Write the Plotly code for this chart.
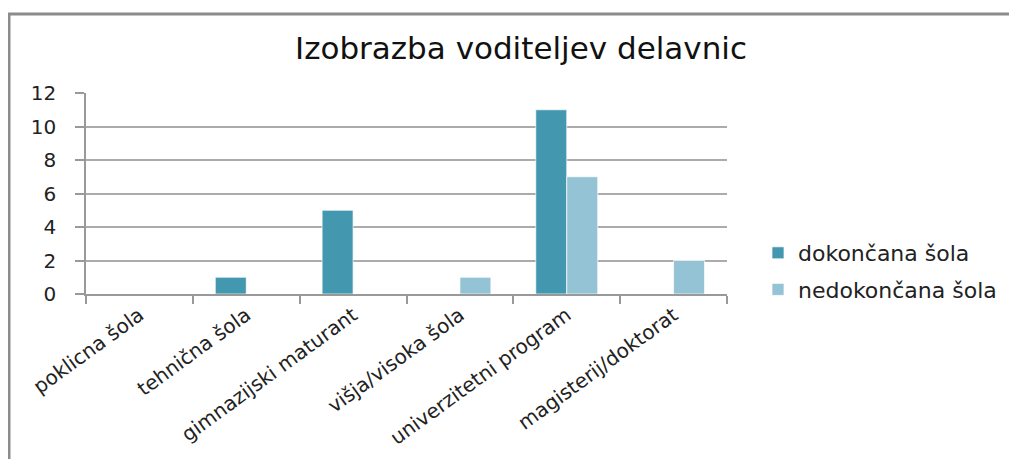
import plotly.graph_objects as go

categories = ["poklicna šola", "tehnična šola", "gimnazijski maturant",
              "višja/visoka šola", "univerzitetni program", "magisterij/doktorat"]
dokoncana = [0, 1, 5, 0, 11, 0]
nedokoncana = [0, 0, 0, 1, 7, 2]
series_names = ["dokončana šola", "nedokončana šola"]
title_text = "Izobrazba voditeljev delavnic"

OFF = 8  # page body margin
W, H = 1017 - 2 * OFF, 467 - 2 * OFF
# plot area in page pixels -> figure pixels
L, R, T, B = 86 - OFF, 727 - OFF, 93 - OFF, 294 - OFF
FONT = "DejaVu Sans"

def px_x(px):
    return (px - OFF - L) / (R - L)

def px_y(py):
    return (B - (py - OFF)) / (B - T)

fig = go.Figure()
fig.add_trace(go.Bar(x=categories, y=dokoncana, name=series_names[0],
                     marker=dict(color="#4398B0", line=dict(color="rgba(255,255,255,0.7)", width=1)),
                     legendgroup="a"))
fig.add_trace(go.Bar(x=categories, y=nedokoncana, name=series_names[1],
                     marker=dict(color="#93C3D5", line=dict(color="rgba(255,255,255,0.7)", width=1)),
                     legendgroup="b"))

fig.update_layout(
    width=W, height=H,
    margin=dict(l=L, r=W - R, t=T, b=H - B, autoexpand=False),
    paper_bgcolor="white", plot_bgcolor="white",
    barmode="group", bargap=0.42, bargroupgap=0,
    font=dict(family=FONT, color="#222222"),
    title=dict(text=title_text, x=(521 - OFF) / W, xanchor="center", xref="container",
               y=1 - (48 - OFF) / H, yanchor="middle", yref="container",
               font=dict(family=FONT, size=31, color="#111111")),
    legend=dict(x=px_x(758), xanchor="left", y=px_y(271.5), yanchor="middle",
                font=dict(family=FONT, size=22, color="#222222"),
                tracegroupgap=5, bgcolor="rgba(0,0,0,0)"),
    showlegend=True,
    xaxis=dict(type="category", tickson="boundaries", ticks="outside", ticklen=8,
               tickcolor="#999999", tickwidth=1.5, showline=True, linecolor="#999999",
               linewidth=1.5, showgrid=False, tickangle=-36,
               tickfont=dict(family=FONT, size=20, color="#222222"), fixedrange=True),
    yaxis=dict(range=[0, 12], dtick=2, ticks="outside", ticklen=9, tickcolor="#999999",
               tickwidth=1.5, showline=True, linecolor="#999999", linewidth=1.5,
               showgrid=True, gridcolor="#ABABAB", gridwidth=1.5, zeroline=False,
               ticklabelstandoff=15,
               tickfont=dict(family=FONT, size=20, color="#222222"), fixedrange=True),
    shapes=[
        dict(type="line", xref="paper", yref="paper", x0=px_x(9), x1=px_x(9),
             y0=px_y(475), y1=px_y(13), line=dict(color="#8C8C8C", width=3)),
        dict(type="line", xref="paper", yref="paper", x0=px_x(8), x1=px_x(1030),
             y0=px_y(14), y1=px_y(14), line=dict(color="#8C8C8C", width=3)),
    ],
)

fig.write_html("out.html")
